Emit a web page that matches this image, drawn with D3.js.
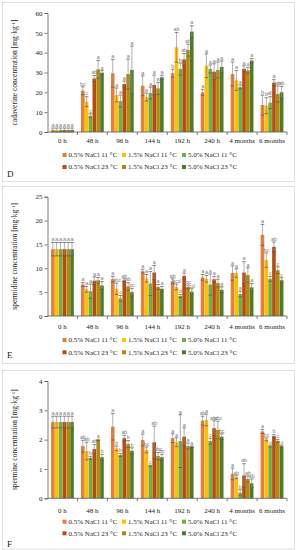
<!DOCTYPE html>
<html>
<head>
<meta charset="utf-8">
<script src="https://cdn.jsdelivr.net/npm/d3@7"></script>
<style>
  body { margin: 0; background: #fff; }
  svg { display: block; }
</style>
</head>
<body>
<svg id="chart"></svg>
<script>
var WIDTH = 298;
var HEIGHT = 550;

var groups = ['0 h', '48 h', '96 h', '144 h', '192 h', '240 h', '4 months', '6 months'];
var series = ['0.5% NaCl 11 °C', '1.5% NaCl 11 °C', '5.0% NaCl 11 °C',
              '0.5% NaCl 23 °C', '1.5% NaCl 23 °C', '5.0% NaCl 23 °C'];
var colors = ['#ED7D31', '#FFC000', '#70AD47', '#B84A10', '#B08A08', '#4F7A2E'];

// cadaverine [mg/kg], one row per time point
var cadaverine = [
  [1, 1, 1, 1, 1, 1],
  [20.8, 15.3, 8.2, 27.0, 31.6, 29.9],
  [29.6, 18.7, 15.6, 24.2, 29.2, 31.3],
  [23.3, 17.6, 19.7, 23.7, 22.0, 27.6],
  [29.6, 42.7, 31.8, 36.6, 41.3, 50.6],
  [20.0, 33.4, 31.8, 30.4, 31.3, 32.8],
  [29.2, 26.0, 22.7, 31.9, 31.1, 36.0],
  [13.6, 13.3, 14.8, 24.9, 19.2, 20.0]
];
var cadaverineErr = [
  [1, 1, 1, 1, 1, 1],
  [2, 2.5, 1, 1.5, 4.5, 1],
  [7, 3.5, 3, 1.5, 7.5, 12],
  [5, 2, 3, 5, 3, 1],
  [2, 7.5, 3, 3, 3, 3],
  [1.5, 6, 2, 4, 4, 3],
  [6, 5, 1, 1.5, 1.5, 1],
  [5, 4, 3, 1.5, 4, 3]
];
var cadaverineLet = [
  ['a', 'a', 'a', 'a', 'a', 'a'],
  ['bc', 'c', 'c', 'ab', 'a', 'a'],
  ['a', 'a', 'a', 'a', 'a', 'a'],
  ['a', 'a', 'a', 'a', 'a', 'a'],
  ['b', 'ab', 'b', 'ab', 'ab', 'a'],
  ['a', 'a', 'a', 'a', 'a', 'a'],
  ['a', 'a', 'a', 'a', 'a', 'a'],
  ['b', 'b', 'ab', 'a', 'ab', 'ab']
];

// spermidine [mg/kg]
var spermidine = [
  [14.0, 14.0, 14.0, 14.0, 14.0, 14.0],
  [6.6, 5.6, 5.2, 7.4, 7.5, 6.4],
  [7.7, 5.7, 3.7, 7.5, 6.2, 5.0],
  [9.4, 7.9, 6.8, 9.1, 6.1, 5.7],
  [7.3, 6.1, 4.2, 8.4, 6.1, 5.1],
  [8.1, 7.8, 6.6, 7.7, 6.9, 5.5],
  [9.0, 9.0, 4.6, 9.1, 8.6, 6.0],
  [17.0, 11.7, 7.8, 14.5, 9.6, 7.5]
];
var spermidineErr = [
  [1.4, 1.4, 1.4, 1.4, 1.4, 1.4],
  [0.4, 0.6, 1.5, 0.8, 0.6, 0.8],
  [0.6, 1.2, 0.6, 0.3, 0.8, 0.8],
  [0.4, 0.8, 2.5, 1.5, 0.5, 0.5],
  [0.5, 0.6, 0.3, 0.6, 0.4, 0.6],
  [0.6, 0.7, 2.2, 0.6, 0.8, 0.6],
  [1.5, 0.9, 0.6, 2.3, 1.5, 0.8],
  [2.2, 1.5, 0.5, 1.0, 0.7, 0.5]
];
var spermidineLet = [
  ['a', 'a', 'a', 'a', 'a', 'a'],
  ['a', 'a', 'a', 'a', 'a', 'a'],
  ['a', 'abc', 'c', 'ab', 'ab', 'bc'],
  ['a', 'a', 'a', 'a', 'a', 'a'],
  ['ab', 'bcd', 'd', 'a', 'bc', 'cd'],
  ['a', 'a', 'a', 'a', 'a', 'a'],
  ['a', 'a', 'a', 'a', 'a', 'a'],
  ['a', 'bc', 'c', 'ab', 'c', 'c']
];

// spermine [mg/kg]
var spermine = [
  [2.6, 2.6, 2.6, 2.6, 2.6, 2.6],
  [1.78, 1.61, 1.38, 1.68, 1.99, 1.40],
  [2.44, 1.70, 1.48, 2.05, 1.85, 1.62],
  [1.99, 1.65, 1.11, 1.91, 1.44, 1.40],
  [2.05, 1.91, 1.95, 2.10, 1.78, 1.76],
  [2.65, 2.67, 1.95, 2.39, 2.33, 2.10],
  [0.83, 0.72, 0.19, 0.78, 0.66, 0.51],
  [2.28, 2.01, 1.77, 2.12, 1.96, 1.77]
];
var spermineErr = [
  [0.2, 0.2, 0.2, 0.2, 0.2, 0.2],
  [0.2, 0.3, 0.05, 0.15, 0.02, 0.1],
  [0.45, 0.08, 0.05, 0.1, 0.12, 0.1],
  [0.2, 0.1, 0.02, 0.55, 0.12, 0.1],
  [0.15, 0.15, 0.9, 0.3, 0.1, 0.02],
  [0.15, 0.2, 0.1, 0.25, 0.3, 0.1],
  [0.2, 0.05, 0.1, 0.4, 0.1, 0.15],
  [0.07, 0.05, 0.02, 0.05, 0.05, 0.02]
];
var spermineLet = [
  ['a', 'a', 'a', 'a', 'a', 'a'],
  ['ab', 'ab', 'b', 'ab', 'a', 'b'],
  ['a', 'b', 'b', 'ab', 'b', 'b'],
  ['a', 'bc', 'c', 'ab', 'abc', 'bc'],
  ['a', 'a', 'a', 'a', 'a', 'a'],
  ['ab', 'a', 'c', 'abc', 'abc', 'bc'],
  ['a', 'ab', 'b', 'ab', 'ab', 'ab'],
  ['a', 'bc', 'd', 'b', 'c', 'd']
];

// panel layout (pixel positions of each figure part)
var panels = [
  { name: 'D', title: 'cadaverine concentration ', values: cadaverine, err: cadaverineErr, lets: cadaverineLet,
    max: 60, step: 10, box: [2, 181], plot: [13, 132], xLab: 143, leg: [155, 167], tag: 177 },
  { name: 'E', title: 'spermidine concentration ', values: spermidine, err: spermidineErr, lets: spermidineLet,
    max: 25, step: 5, box: [186, 363], plot: [196.7, 316], xLab: 328.5, leg: [340, 352.3], tag: 358 },
  { name: 'F', title: 'spermine concentration ', values: spermine, err: spermineErr, lets: spermineLet,
    max: 4, step: 1, box: [370, 548.5], plot: [381, 498.3], xLab: 513, leg: [521.7, 533.3], tag: 546.5 }
];

var LEFT = 47.5;
var RIGHT = 287;
var SERIF = '"Liberation Serif", "Times New Roman", serif';
var SANS = '"Liberation Sans", Arial, sans-serif';
var AXIS = '#595959';

var svg = d3.select('#chart')
  .attr('width', WIDTH)
  .attr('height', HEIGHT);

svg.append('rect')
  .attr('width', WIDTH).attr('height', HEIGHT)
  .attr('fill', '#fff');

var xScale = d3.scaleBand().domain(groups).range([LEFT, RIGHT]);
var subScale = d3.scaleBand()
  .domain(series)
  .range([xScale.bandwidth() * 0.12, xScale.bandwidth() * 0.88])
  .paddingInner(0.06);

panels.forEach(function(p) {
  var g = svg.append('g');

  // light frame round the panel
  g.append('rect')
    .attr('x', 2.5).attr('y', p.box[0] + 0.5)
    .attr('width', 292).attr('height', p.box[1] - p.box[0])
    .attr('fill', 'none')
    .attr('stroke', '#d9d9d9')
    .attr('stroke-width', 0.8);

  var yScale = d3.scaleLinear().domain([0, p.max]).range([p.plot[1], p.plot[0]]);

  // bars, error bars and significance letters
  p.values.forEach(function(row, gi) {
    var gx = xScale(groups[gi]);
    row.forEach(function(v, si) {
      var x = gx + subScale(series[si]);
      var w = subScale.bandwidth();
      var e = p.err[gi][si];
      g.append('rect')
        .attr('x', x).attr('y', yScale(v))
        .attr('width', w).attr('height', yScale(0) - yScale(v))
        .attr('fill', colors[si]);

      var cx = x + w / 2;
      var lo = Math.max(0, v - e);
      var hi = v + e;
      g.append('line')
        .attr('x1', cx).attr('x2', cx)
        .attr('y1', yScale(lo)).attr('y2', yScale(hi))
        .attr('stroke', '#8c8c8c').attr('stroke-width', 0.7);
      [lo, hi].forEach(function(t) {
        g.append('line')
          .attr('x1', cx - 1.8).attr('x2', cx + 1.8)
          .attr('y1', yScale(t)).attr('y2', yScale(t))
          .attr('stroke', '#555').attr('stroke-width', 0.7);
      });

      g.append('text')
        .attr('x', cx).attr('y', yScale(hi) - 1.2)
        .attr('text-anchor', 'middle')
        .attr('font-family', SANS)
        .attr('font-size', 5.5)
        .attr('letter-spacing', -0.2)
        .attr('fill', '#808080')
        .text(p.lets[gi][si]);
    });
  });

  // y axis
  var ticks = d3.range(0, p.max + p.step / 2, p.step);
  var leftAxis = d3.axisLeft(yScale).tickValues(ticks).tickSize(3).tickPadding(2).tickFormat(d3.format('d'));
  var ya = g.append('g')
    .attr('transform', 'translate(' + LEFT + ',0)')
    .call(leftAxis);
  ya.select('.domain').attr('stroke', AXIS).attr('stroke-width', 0.8);
  ya.selectAll('.tick line').attr('stroke', AXIS).attr('stroke-width', 0.8);
  ya.selectAll('.tick text')
    .attr('font-family', SERIF).attr('font-size', 7).attr('fill', '#222');

  // x axis: ticks between groups
  var xa = g.append('g');
  xa.append('line')
    .attr('x1', LEFT).attr('x2', RIGHT)
    .attr('y1', yScale(0)).attr('y2', yScale(0))
    .attr('stroke', AXIS).attr('stroke-width', 0.8);
  groups.forEach(function(c, i) {
    xa.append('line')
      .attr('x1', xScale(c) + xScale.bandwidth()).attr('x2', xScale(c) + xScale.bandwidth())
      .attr('y1', yScale(0)).attr('y2', yScale(0) + 3)
      .attr('stroke', AXIS).attr('stroke-width', 0.8);
    xa.append('text')
      .attr('x', xScale(c) + xScale.bandwidth() / 2)
      .attr('y', p.xLab)
      .attr('text-anchor', 'middle')
      .attr('font-family', SERIF).attr('font-size', 7).attr('fill', '#222')
      .text(c);
  });

  // y title
  var midY = (p.plot[0] + p.plot[1]) / 2;
  var tt = g.append('text')
    .attr('transform', 'translate(17,' + midY + ') rotate(-90)')
    .attr('text-anchor', 'middle')
    .attr('font-family', SERIF).attr('font-size', 7.5).attr('fill', '#222');
  tt.append('tspan').text(p.title + '[mg·kg');
  tt.append('tspan').attr('font-size', 5).attr('dy', -2.5).text('-1');
  tt.append('tspan').attr('dy', 2.5).text(']');

  // legend
  var legX = [62.5, 122, 182];
  series.forEach(function(s, i) {
    var ly = p.leg[Math.floor(i / 3)];
    var lx = legX[i % 3];
    g.append('rect')
      .attr('x', lx).attr('y', ly - 2)
      .attr('width', 4).attr('height', 4)
      .attr('fill', colors[i]);
    g.append('text')
      .attr('x', lx + 6).attr('y', ly + 2.4)
      .attr('font-family', SERIF).attr('font-size', 7).attr('fill', '#222')
      .text(s);
  });

  // panel tag
  g.append('text')
    .attr('x', 7).attr('y', p.tag)
    .attr('font-family', SERIF).attr('font-size', 9).attr('fill', '#222')
    .text(p.name);
});
</script>
</body>
</html>
